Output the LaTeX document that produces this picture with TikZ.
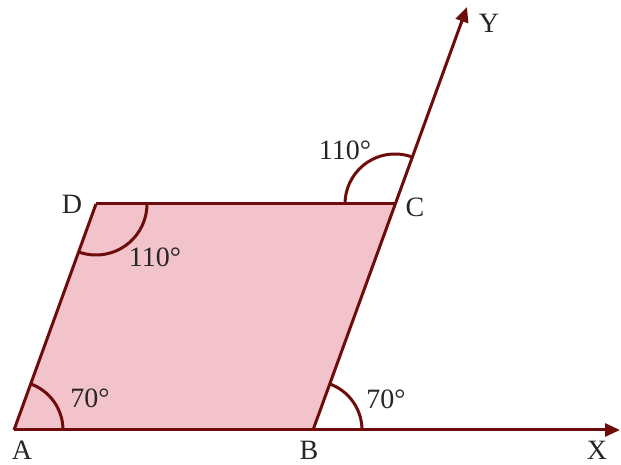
\documentclass[tikz,border=0pt]{standalone}
\usepackage{fontspec}
\setmainfont{Liberation Serif}
\usetikzlibrary{arrows.meta}
\definecolor{edge}{HTML}{6E0B0B}
\definecolor{fillpink}{HTML}{F2C3CA}
\tikzset{
  edgeline/.style={draw=edge, line width=3pt},
  arrowline/.style={edgeline, -{Triangle[length=15pt,width=13pt]}},
  anglearc/.style={draw=edge, line width=3pt},
  lbl/.style={inner sep=0pt, font=\fontsize{28}{30}\selectfont, text=black!85}
}
\begin{document}
\begin{tikzpicture}[x=1pt,y=1pt]
\useasboundingbox (0,0) rectangle (621,465);
\coordinate (A) at (14,35);
\coordinate (B) at (313,35);
\coordinate (C) at (395,261);
\coordinate (D) at (96,261);
\coordinate (X) at (620,35);
\coordinate (Y) at (467,458);
\fill[fillpink] (A) -- (B) -- (C) -- (D) -- cycle;
\draw[anglearc] ([shift=(0:49)]A) arc[start angle=0,end angle=70,radius=49];
\draw[anglearc] ([shift=(0:49)]B) arc[start angle=0,end angle=70,radius=49];
\draw[anglearc] ([shift=(250:51)]D) arc[start angle=250,end angle=360,radius=51];
\draw[anglearc] ([shift=(70:50)]C) arc[start angle=70,end angle=180,radius=50];
\draw[edgeline] (D) -- (C);
\draw[edgeline] (A) -- (D);
\draw[arrowline] (A) -- (X);
\draw[arrowline] (B) -- (Y);
\node[lbl] (lA) at (22,15) {A};
\node[lbl] (lB) at (309,15) {B};
\node[lbl] (lC) at (415,258) {C};
\node[lbl] (lD) at (72,261) {D};
\node[lbl] (lX) at (597,15) {X};
\node[lbl] (lY) at (489,442) {Y};
\node[lbl] (aA) at (90,67) {70°};
\node[lbl] (aB) at (386,66) {70°};
\node[lbl] (aD) at (155,208) {110°};
\node[lbl] (aC) at (345,315) {110°};
\end{tikzpicture}
\end{document}
